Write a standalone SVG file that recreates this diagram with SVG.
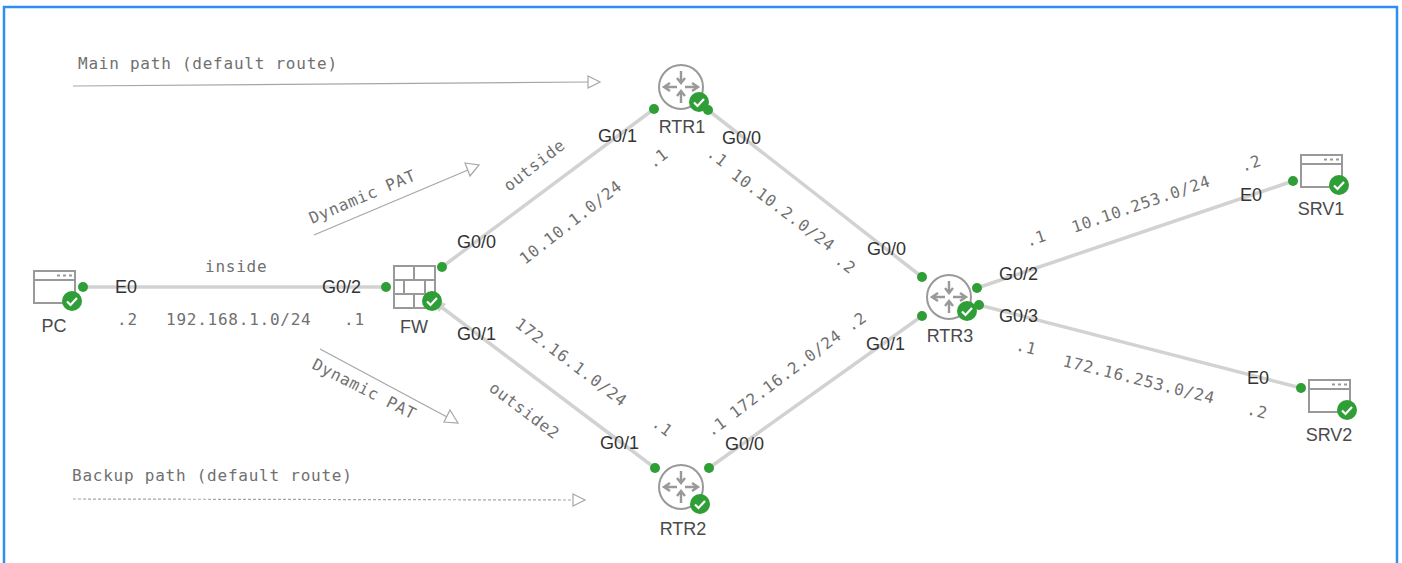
<svg xmlns="http://www.w3.org/2000/svg" xmlns:xlink="http://www.w3.org/1999/xlink" width="1402" height="563" viewBox="0 0 1402 563">
<style>
.lnk{stroke:#d2d2d2;stroke-width:3.5;fill:none}
.dot{fill:#2f9e37}
.lb{font-family:"Liberation Sans",Arial,sans-serif;font-size:18px;fill:#333}
.nm{font-family:"Liberation Sans",Arial,sans-serif;font-size:18px;fill:#4a4a4a;text-anchor:middle}
.mn{font-family:"DejaVu Sans Mono",monospace;font-size:16px;letter-spacing:.76px;fill:#707070}
.ic{fill:none;stroke:#999;stroke-width:2}
.ar{fill:none;stroke:#a6a6a6;stroke-width:1.2}
.ah{fill:#fff;stroke:#a6a6a6;stroke-width:1.2}
</style>
<defs>
<g id="badge"><circle r="10" fill="#2f9e37"/><path d="M-5 0.5L-1.500 4L5 -3" fill="none" stroke="#fff" stroke-width="2.200"/></g>
<g id="srv"><rect x="0" y="0" width="41" height="32" class="ic"/><path d="M0 9H41" class="ic"/><path d="M23 4.500H26M29 4.500H32M35 4.500H38" class="ic"/></g>
<g id="rtr"><circle r="22" class="ic"/><g fill="none" stroke="#999" stroke-width="2.400"><path d="M0 -16V-4M-4 -9L0 -4L4 -9"/><path d="M0 16V4M-4 9L0 4L4 9"/><path d="M-4 0H-17M-11 -4L-17 0L-11 4"/><path d="M4 0H17M11 -4L17 0L11 4"/></g></g>
</defs>
<rect x="4" y="7" width="1393" height="560" fill="#fff" stroke="#2d8ff0" stroke-width="2.500"/>
<g id="connectors">
<path class="lnk" d="M83 287H386"/>
<path class="lnk" d="M442 267L654 109"/>
<path class="lnk" d="M436 303L655 468"/>
<path class="lnk" d="M708 110L922 277"/>
<path class="lnk" d="M709 468L922 316"/>
<path class="lnk" d="M977 288L1293 181"/>
<path class="lnk" d="M979 305L1301 388"/>
</g>
<g id="annotations">
<path class="ar" d="M73 86L588 82"/><path class="ah" d="M588 76L600 82L588 88Z"/>
<path class="ar" d="M314 235L468 170"/><path class="ah" d="M465 163L479 165L470 176Z"/>
<path class="ar" d="M320 349L447 417"/><path class="ah" d="M450 410L458 423L444 422Z"/>
<path class="ar" d="M73 499L573 500" stroke-dasharray="3 2"/><path class="ah" d="M573 494L585 500L573 506Z"/>
<text class="mn" x="78" y="69">Main path (default route)</text>
<text class="mn" x="72" y="481">Backup path (default route)</text>
<text class="mn" transform="translate(312 224) rotate(-23)">Dynamic PAT</text>
<text class="mn" transform="translate(311 368) rotate(27)">Dynamic PAT</text>
<text class="mn" x="205" y="272">inside</text>
<text class="mn" x="166" y="325">192.168.1.0/24</text>
<text class="mn" x="117" y="325">.2</text>
<text class="mn" x="344" y="325">.1</text>
<text class="mn" transform="translate(509 192) rotate(-38)">outside</text>
<text class="mn" transform="translate(525 265) rotate(-38)">10.10.1.0/24</text>
<text class="mn" transform="translate(653 169) rotate(-38)">.1</text>
<text class="mn" transform="translate(706 155) rotate(38)">.1</text>
<text class="mn" transform="translate(730 177) rotate(37)">10.10.2.0/24</text>
<text class="mn" transform="translate(834 262) rotate(38)">.2</text>
<text class="mn" transform="translate(514 326) rotate(37)">172.16.1.0/24</text>
<text class="mn" transform="translate(488 390) rotate(37)">outside2</text>
<text class="mn" transform="translate(651 425) rotate(37)">.1</text>
<text class="mn" transform="translate(711 437) rotate(-36)">.1</text>
<text class="mn" transform="translate(735 419) rotate(-37)">172.16.2.0/24</text>
<text class="mn" transform="translate(851 332) rotate(-36)">.2</text>
<text class="mn" transform="translate(1028 247) rotate(-19)">.1</text>
<text class="mn" transform="translate(1074 233) rotate(-19)">10.10.253.0/24</text>
<text class="mn" transform="translate(1243 172) rotate(-19)">.2</text>
<text class="mn" transform="translate(1015 350) rotate(14)">.1</text>
<text class="mn" transform="translate(1062 366) rotate(14)">172.16.253.0/24</text>
<text class="mn" transform="translate(1246 414) rotate(14)">.2</text>
<text class="lb" x="115" y="293">E0</text>
<text class="lb" x="322" y="293">G0/2</text>
<text class="lb" x="457" y="248">G0/0</text>
<text class="lb" x="457" y="340">G0/1</text>
<text class="lb" x="598" y="142">G0/1</text>
<text class="lb" x="722" y="144">G0/0</text>
<text class="lb" x="867" y="255">G0/0</text>
<text class="lb" x="866" y="350">G0/1</text>
<text class="lb" x="600" y="449">G0/1</text>
<text class="lb" x="725" y="450">G0/0</text>
<text class="lb" x="999" y="280">G0/2</text>
<text class="lb" x="999" y="322">G0/3</text>
<text class="lb" x="1240" y="201">E0</text>
<text class="lb" x="1247" y="384">E0</text>
</g>
<g id="PC"><use href="#srv" x="34" y="271"/><circle class="dot" cx="83" cy="287" r="5"/><use href="#badge" x="72" y="301"/><text class="nm" x="54" y="332">PC</text></g>
<g id="FW">
<rect x="394" y="266" width="41" height="42" class="ic"/>
<path class="ic" d="M394 280H435M394 294H435M414 266V280M404 280V294M425 280V294M414 294V308"/>
<circle class="dot" cx="386" cy="287" r="5"/><circle class="dot" cx="442" cy="267" r="5"/>
<path d="M431 297L446 304L439 312Z" fill="#d2d2d2"/>
<use href="#badge" x="432" y="301"/><text class="nm" x="414" y="333">FW</text></g>
<g id="RTR1"><use href="#rtr" x="681" y="87"/><circle class="dot" cx="654" cy="109" r="5"/><circle class="dot" cx="708" cy="110" r="5"/><use href="#badge" x="699" y="102"/><text class="nm" x="682" y="133">RTR1</text></g>
<g id="RTR2"><use href="#rtr" x="681" y="487"/><circle class="dot" cx="655" cy="468" r="5"/><circle class="dot" cx="709" cy="468" r="5"/><use href="#badge" x="700" y="504"/><text class="nm" x="683" y="535">RTR2</text></g>
<g id="RTR3"><use href="#rtr" x="949" y="297"/><circle class="dot" cx="922" cy="277" r="5"/><circle class="dot" cx="922" cy="316" r="5"/><circle class="dot" cx="977" cy="288" r="5"/><circle class="dot" cx="979" cy="305" r="5"/><use href="#badge" x="967" y="311"/><text class="nm" x="950" y="342">RTR3</text></g>
<g id="SRV1"><use href="#srv" x="1301" y="155"/><circle class="dot" cx="1293" cy="181" r="5"/><use href="#badge" x="1339" y="185"/><text class="nm" x="1321" y="215">SRV1</text></g>
<g id="SRV2"><use href="#srv" x="1309" y="380"/><circle class="dot" cx="1301" cy="388" r="5"/><use href="#badge" x="1347" y="410"/><text class="nm" x="1329" y="441">SRV2</text></g>
</svg>
